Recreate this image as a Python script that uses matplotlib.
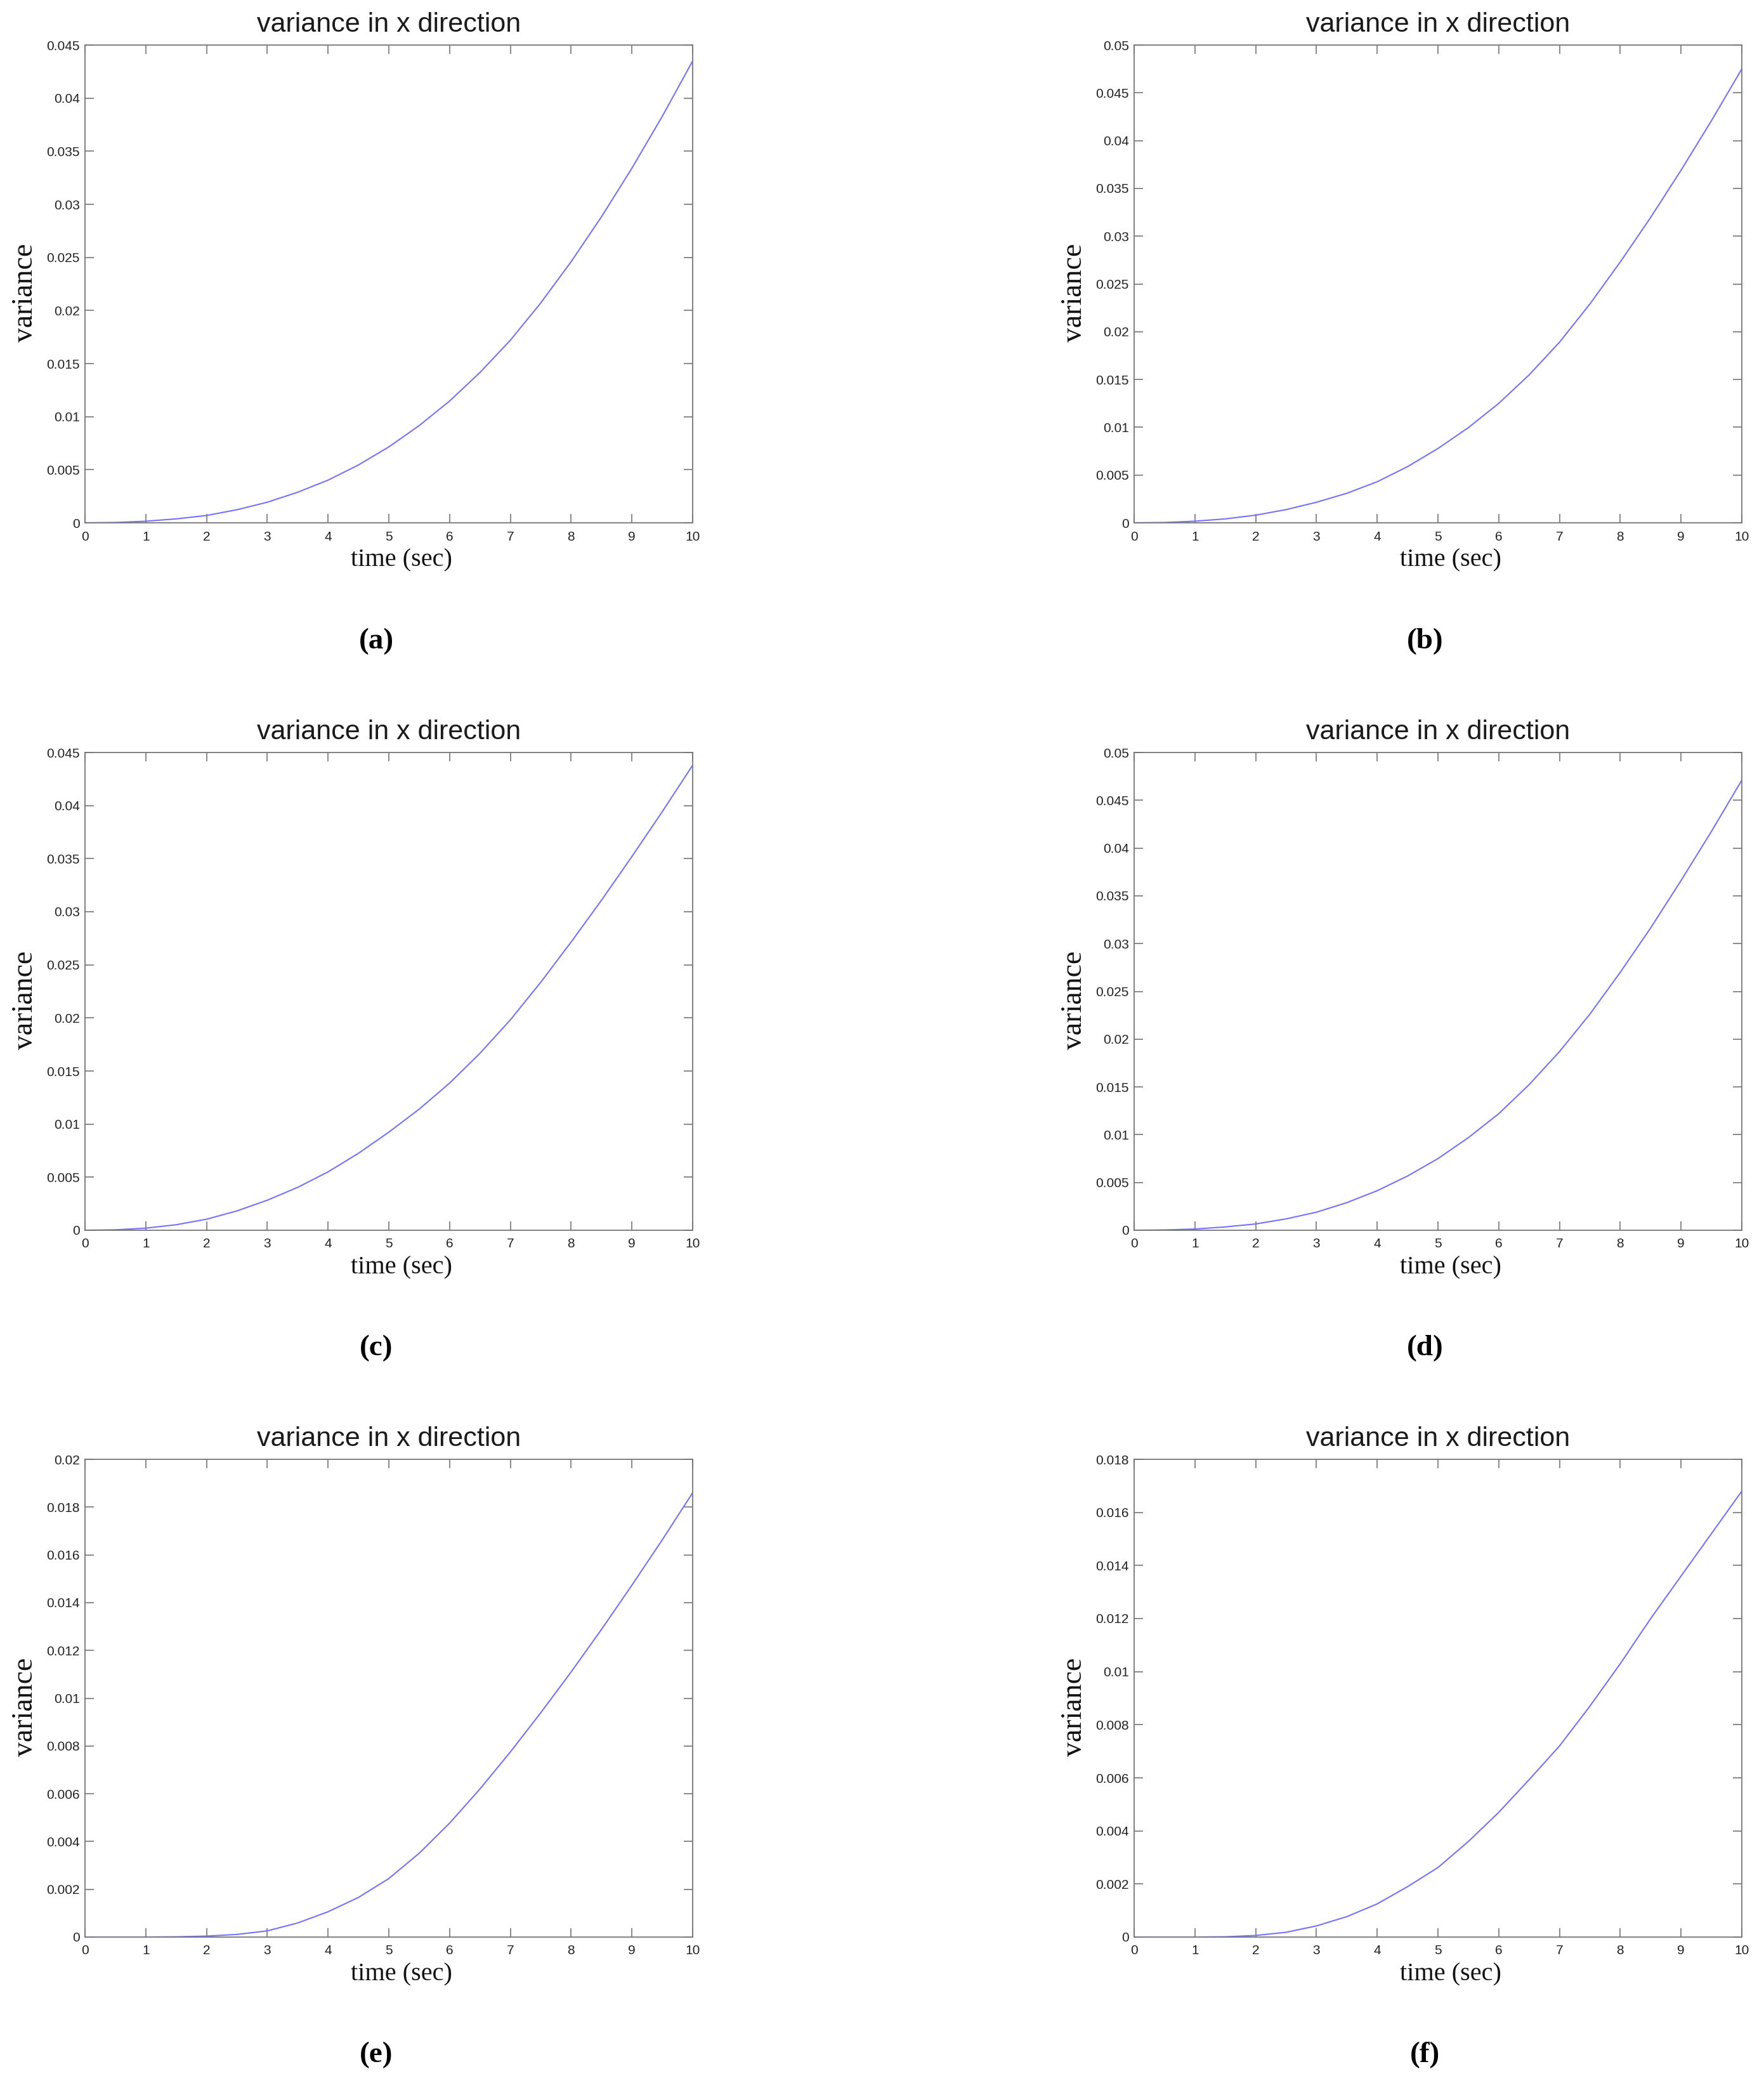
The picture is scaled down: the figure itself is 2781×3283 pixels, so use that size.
"""
Six-panel variance plot (variance in x direction vs time), MATLAB look.
"""
import matplotlib
matplotlib.use('Agg')
import matplotlib.pyplot as plt
from matplotlib.ticker import FuncFormatter, MultipleLocator

# time samples (sec)
time_sec = [0, 0.5, 1, 1.5, 2, 2.5, 3, 3.5, 4, 4.5, 5,
            5.5, 6, 6.5, 7, 7.5, 8, 8.5, 9, 9.5, 10]

# variance
var_a = [0, 0.00003, 0.00015, 0.00037, 0.00069, 0.00123, 0.00194, 0.00288, 0.00402, 0.00545, 0.00715,
         0.00916, 0.01147, 0.01416, 0.0172, 0.02071, 0.0246, 0.02883, 0.0334, 0.03829, 0.0435]
var_b = [0, 0.00003, 0.00017, 0.00041, 0.0008, 0.00138, 0.00215, 0.00309, 0.0043, 0.00588, 0.00778,
         0.00996, 0.0125, 0.01548, 0.0189, 0.0229, 0.0273, 0.03196, 0.0369, 0.04208, 0.0475]
var_c = [0, 0.00004, 0.0002, 0.00052, 0.00104, 0.00182, 0.00283, 0.00404, 0.0055, 0.00725, 0.00924,
         0.01141, 0.01386, 0.01667, 0.01982, 0.02336, 0.02715, 0.03109, 0.0352, 0.03943, 0.0438]
var_d = [0, 0.00003, 0.00013, 0.00035, 0.00066, 0.00119, 0.00189, 0.00289, 0.00414, 0.00568, 0.0075,
         0.00969, 0.0122, 0.01524, 0.0187, 0.02262, 0.027, 0.03164, 0.0366, 0.04174, 0.0471]
var_e = [0, 0, 0, 0.00001, 0.00004, 0.00011, 0.00026, 0.00059, 0.00106, 0.00166, 0.00245,
         0.00351, 0.00477, 0.0062, 0.00775, 0.00939, 0.0111, 0.01288, 0.01473, 0.01663, 0.0186]
var_f = [0, 0, 0, 0.00001, 0.00006, 0.00018, 0.00042, 0.00077, 0.00125, 0.0019, 0.00262,
         0.0036, 0.0047, 0.00593, 0.0072, 0.0087, 0.0103, 0.012, 0.0136, 0.0152, 0.0168]

series = [var_a, var_b, var_c, var_d, var_e, var_f]
captions = ['(a)', '(b)', '(c)', '(d)', '(e)', '(f)']
y_max = [0.045, 0.05, 0.045, 0.05, 0.02, 0.018]
y_step = [0.005, 0.005, 0.005, 0.005, 0.002, 0.002]

W, H = 2781, 3283
fig = plt.figure(figsize=(W / 100, H / 100), dpi=100)

col_left = [134 / W, 1788 / W]
ax_w = 958 / W
ax_h = 753 / H
row_bottom = [1 - 824 / H, 1 - 1939 / H, 1 - 3053 / H]
caption_y = [1 - 1011 / H, 1 - 2125 / H, 1 - 3239 / H]

spine_col = '#767676'
text_col = '#222222'


def fmt_tick(v, pos):
    return '%g' % round(v, 6)


for i, vals in enumerate(series):
    row, col = divmod(i, 2)
    ax = fig.add_axes([col_left[col], row_bottom[row], ax_w, ax_h])
    ax.plot(time_sec, vals, color='#7272ff', linewidth=1.5)

    ax.set_xlim(0, 10)
    ax.set_ylim(0, y_max[i])
    ax.xaxis.set_major_locator(MultipleLocator(1))
    ax.yaxis.set_major_locator(MultipleLocator(y_step[i]))
    ax.yaxis.set_major_formatter(FuncFormatter(fmt_tick))

    for s in ax.spines.values():
        s.set_color(spine_col)
        s.set_linewidth(1.3)
    ax.tick_params(direction='in', length=10, width=1.2, color=spine_col,
                   top=True, right=True, labelsize=15, labelcolor=text_col, pad=6)
    ax.tick_params(axis='x', pad=9)
    for lab in ax.get_xticklabels() + ax.get_yticklabels():
        lab.set_family('Liberation Sans')

    ax.set_title('variance in x direction', fontsize=31, family='Liberation Sans',
                 color='#1a1a1a', pad=15)
    ax.set_xlabel('time (sec)', fontsize=29, family='Liberation Serif', color='#111111')
    ax.xaxis.set_label_coords(0.521, -0.054)
    ax.set_ylabel('variance', fontsize=33, family='Liberation Serif', color='#111111')
    ax.yaxis.set_label_coords(-0.076, 0.481)

    cx = col_left[col] + ax_w / 2 - 20 / W
    fig.text(cx, caption_y[row], captions[i], ha='center', va='center',
             fontsize=34, fontweight='bold', family='Liberation Serif')

fig.savefig('out.png', dpi=100, facecolor='white')
plt.close(fig)
